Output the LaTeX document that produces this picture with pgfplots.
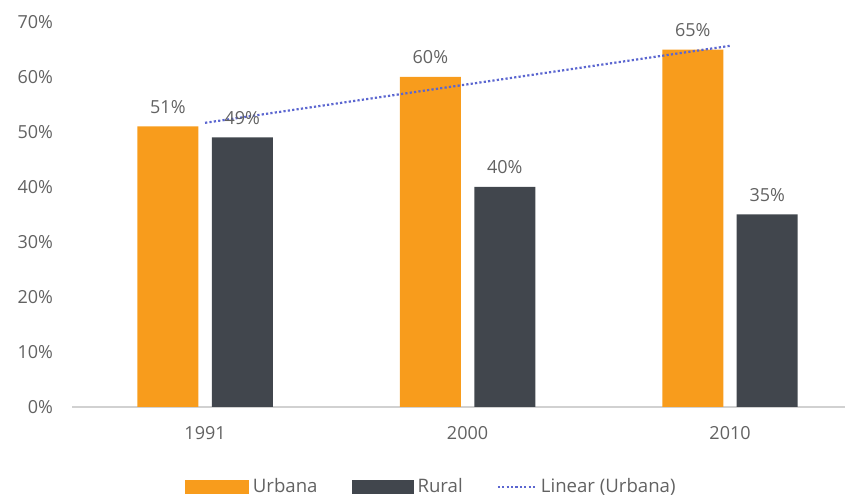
\documentclass[border=0pt]{standalone}
\usepackage{pgfplots}
\pgfplotsset{compat=1.18}
\usepackage{fontspec}
\setmainfont{Open Sans}
\definecolor{urb}{HTML}{F89C1C}
\definecolor{rur}{HTML}{41464D}
\definecolor{trend}{HTML}{5B66D0}
\definecolor{txt}{HTML}{626262}
\begin{document}
\begin{tikzpicture}
\path[use as bounding box] (0,0) rectangle (422.5pt,248.5pt);
\begin{axis}[
  at={(36pt,45pt)}, anchor=south west,
  scale only axis, width=386.5pt, height=192.5pt,
  xmin=-0.507, xmax=2.438, ymin=0, ymax=70,
  xtick={0,1,2}, xticklabels={1991,2000,2010},
  ytick={0,10,...,70},
  yticklabel={\pgfmathprintnumber{\tick}\%},
  /pgf/number format/assume math mode=true,
  tick label style={font=\fontsize{9}{10}\selectfont, text=txt},
  xticklabel style={yshift=-6pt},
  yticklabel style={xshift=-6pt},
  axis x line*=bottom, axis y line*=left,
  x axis line style={draw=black!18, line width=0.8pt, -},
  y axis line style={draw=none},
  major tick style={draw=none},
  clip=false,
  legend style={at={(0.466,-0.2078)}, anchor=center, draw=none, fill=none,
    legend columns=3, font=\fontsize{9.3}{10}\selectfont, text=txt,
    /tikz/every even column/.append style={column sep=15pt},
    legend cell align=left},
]
\addplot[ybar, bar width=30.5pt, bar shift=-18.6pt, fill=urb, draw=none,
  nodes near coords={\pgfmathprintnumber{\pgfplotspointmeta}\%},
  nodes near coords style={font=\fontsize{9}{10}\selectfont, text=txt, yshift=3pt, xshift=-18.6pt},
  legend image code/.code={\fill[urb] (0pt,-3.5pt) rectangle (32pt,3.5pt);}]
  coordinates {(0,51) (1,60) (2,65)};
\addlegendentry{Urbana}
\addplot[ybar, bar width=30.5pt, bar shift=18.6pt, fill=rur, draw=none,
  nodes near coords={\pgfmathprintnumber{\pgfplotspointmeta}\%},
  nodes near coords style={font=\fontsize{9}{10}\selectfont, text=txt, yshift=3pt, xshift=18.6pt},
  legend image code/.code={\fill[rur] (0pt,-3.5pt) rectangle (31pt,3.5pt);}]
  coordinates {(0,49) (1,40) (2,35)};
\addlegendentry{Rural}
\addplot[sharp plot, trend, line width=1.1pt, dash pattern=on 1.1pt off 1.1pt, mark=none,
  legend image code/.code={\draw[trend, line width=1.1pt, dash pattern=on 1.1pt off 1.1pt] (0pt,0pt) -- (19pt,0pt);}]
  coordinates {(0,51.67) (2,65.67)};
\addlegendentry{Linear (Urbana)}
\end{axis}
\end{tikzpicture}
\end{document}
